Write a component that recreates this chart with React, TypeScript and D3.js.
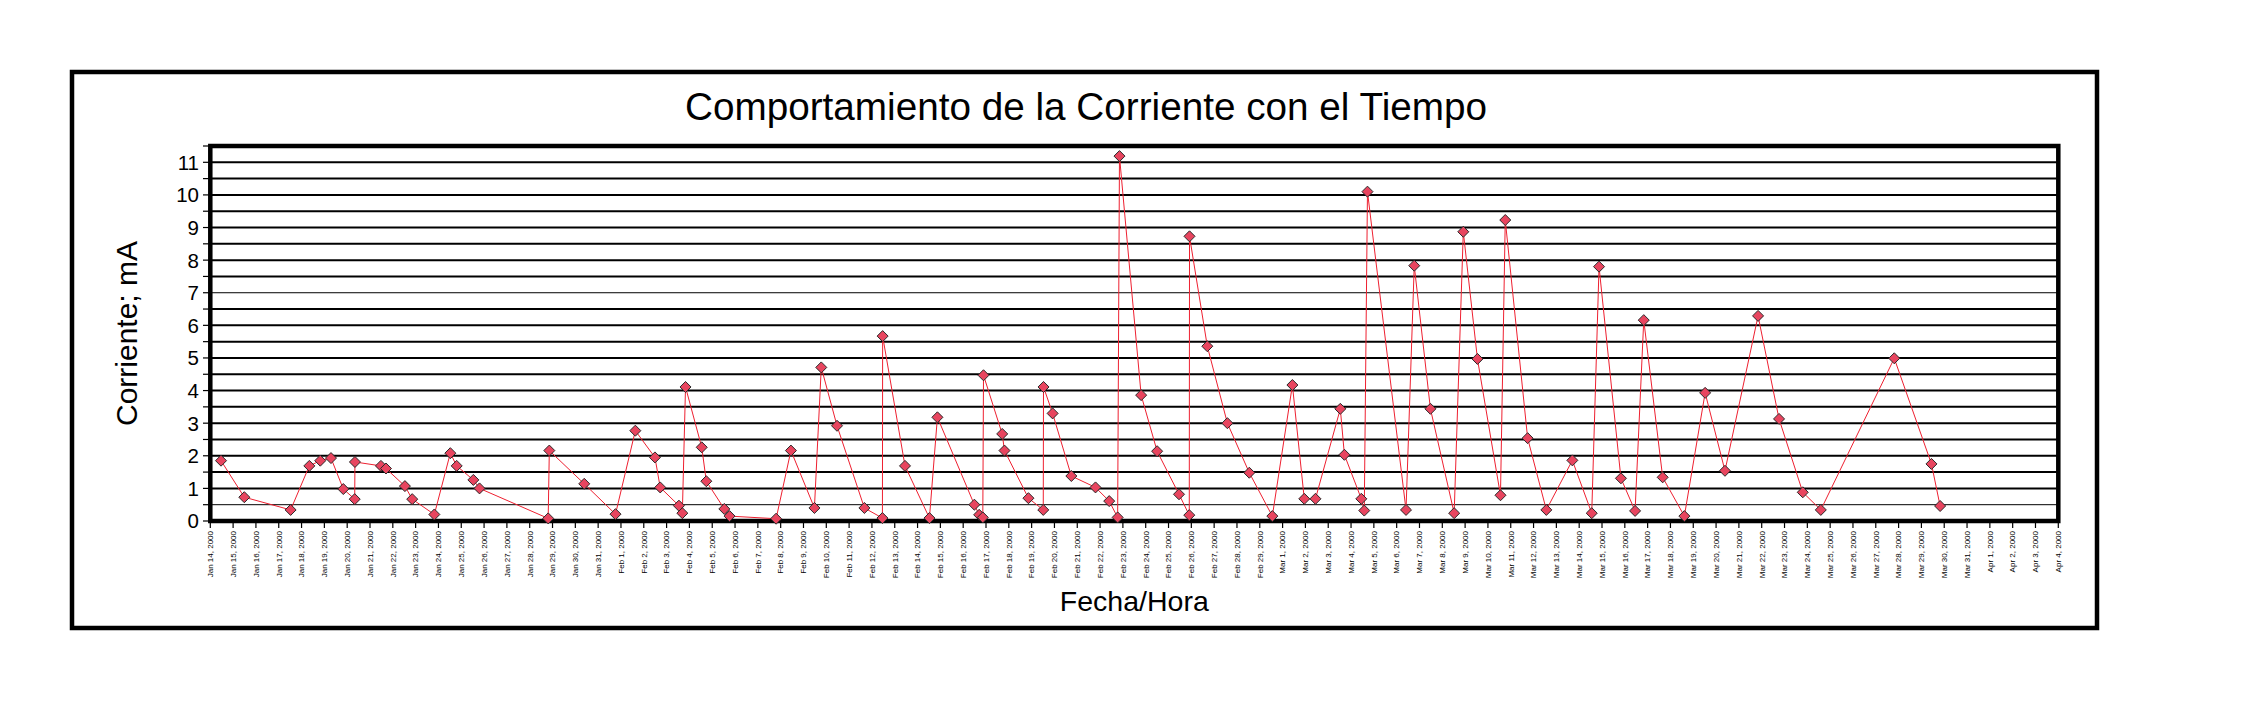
import React from "react";
import * as d3 from "d3";

// ---- data ----
const TIMES: string[] = [
  "2000-01-14 11:17", "2000-01-15 11:46", "2000-01-17 12:29", "2000-01-18 08:10", "2000-01-18 19:41",
  "2000-01-19 06:58", "2000-01-19 19:55", "2000-01-20 07:55", "2000-01-20 08:10", "2000-01-21 11:31",
  "2000-01-21 16:48", "2000-01-22 12:43", "2000-01-22 20:24", "2000-01-23 19:41", "2000-01-24 12:29",
  "2000-01-24 19:12", "2000-01-25 12:43", "2000-01-25 19:12", "2000-01-28 19:26", "2000-01-28 20:38",
  "2000-01-30 09:22", "2000-01-31 18:14", "2000-02-01 15:07", "2000-02-02 11:46", "2000-02-02 17:17",
  "2000-02-03 12:58", "2000-02-03 16:34", "2000-02-03 19:55", "2000-02-04 12:58", "2000-02-04 17:46",
  "2000-02-05 12:43", "2000-02-05 18:14", "2000-02-07 19:12", "2000-02-08 10:48", "2000-02-09 11:31",
  "2000-02-09 18:43", "2000-02-10 11:17", "2000-02-11 16:05", "2000-02-12 11:02", "2000-02-12 11:17",
  "2000-02-13 10:48", "2000-02-14 12:29", "2000-02-14 20:53", "2000-02-16 11:46", "2000-02-16 16:48",
  "2000-02-16 20:38", "2000-02-16 21:22", "2000-02-17 17:02", "2000-02-17 19:26", "2000-02-18 20:38",
  "2000-02-19 12:14", "2000-02-19 12:29", "2000-02-19 22:05", "2000-02-20 17:46", "2000-02-21 19:12",
  "2000-02-22 09:36", "2000-02-22 18:29", "2000-02-22 20:24", "2000-02-23 19:12", "2000-02-24 12:00",
  "2000-02-25 11:02", "2000-02-25 21:50", "2000-02-25 22:05", "2000-02-26 16:48", "2000-02-27 13:55",
  "2000-02-28 12:58", "2000-02-29 13:12", "2000-03-01 10:19", "2000-03-01 22:48", "2000-03-02 10:34",
  "2000-03-03 12:43", "2000-03-03 17:02", "2000-03-04 10:48", "2000-03-04 13:55", "2000-03-04 17:17",
  "2000-03-06 09:50", "2000-03-06 18:29", "2000-03-07 11:31", "2000-03-08 12:29", "2000-03-08 22:05",
  "2000-03-09 12:58", "2000-03-10 13:12", "2000-03-10 18:14", "2000-03-11 17:46", "2000-03-12 13:26",
  "2000-03-13 16:48", "2000-03-14 13:12", "2000-03-14 20:53", "2000-03-15 19:55", "2000-03-16 10:48",
  "2000-03-16 19:55", "2000-03-17 15:50", "2000-03-18 14:38", "2000-03-19 12:29", "2000-03-20 09:22",
  "2000-03-21 20:10", "2000-03-22 18:14", "2000-03-23 19:12", "2000-03-24 14:10", "2000-03-27 19:26",
  "2000-03-29 10:34", "2000-03-29 19:41",
];

const CURRENT_MA: number[] = [
  1.85, 0.73, 0.34, 1.69, 1.85,
  1.93, 0.98, 0.67, 1.81, 1.69,
  1.61, 1.07, 0.67, 0.20, 2.08,
  1.69, 1.26, 1.00, 0.08, 2.16,
  1.14, 0.21, 2.77, 1.95, 1.03,
  0.47, 0.24, 4.11, 2.26, 1.22,
  0.37, 0.15, 0.07, 2.16, 0.40,
  4.71, 2.92, 0.40, 0.09, 5.67,
  1.69, 0.09, 3.18, 0.50, 0.19,
  0.11, 4.47, 2.67, 2.16, 0.70,
  0.34, 4.11, 3.30, 1.38, 1.03,
  0.61, 0.11, 11.19, 3.86, 2.14,
  0.82, 0.18, 8.73, 5.36, 3.00,
  1.48, 0.15, 4.17, 0.68, 0.68,
  3.44, 2.03, 0.68, 0.32, 10.10,
  0.34, 7.83, 3.44, 0.24, 8.87,
  4.97, 0.79, 9.23, 2.54, 0.34,
  1.86, 0.24, 7.80, 1.31, 0.31,
  6.16, 1.34, 0.15, 3.93, 1.54,
  6.29, 3.13, 0.88, 0.34, 4.99,
  1.75, 0.46,
];

const X_START = "2000-01-14";
const X_END = "2000-04-04";
const Y_MAX = 11.5;
const Y_LABEL_TICKS = [0, 1, 2, 3, 4, 5, 6, 7, 8, 9, 10, 11];
const THIN_GRID = [0.5, 7];

const TITLE = "Comportamiento de la Corriente con el Tiempo";
const Y_TITLE = "Corriente; mA";
const X_TITLE = "Fecha/Hora";

const W = 2268;
const H = 709;

export default function App() {
  const parseT = d3.timeParse("%Y-%m-%d %H:%M");
  const parseD = d3.timeParse("%Y-%m-%d");
  const fmt = d3.timeFormat("%b %-d, %Y");

  const left = 210.3;
  const right = 2058.3;
  const top = 146;
  const bottom = 521;

  const x = d3.scaleTime().domain([parseD(X_START)!, parseD(X_END)!]).range([left, right]);
  const y = d3.scaleLinear().domain([0, Y_MAX]).range([bottom, top]);

  const pts = TIMES.map((t, i) => ({ t: parseT(t)!, v: CURRENT_MA[i] }));
  const line = d3
    .line<{ t: Date; v: number }>()
    .x((d) => x(d.t))
    .y((d) => y(d.v));

  const dayTicks = d3.timeDay.range(parseD(X_START)!, d3.timeDay.offset(parseD(X_END)!, 1));
  const halfTicks = d3.range(0, Y_MAX + 0.001, 0.5);
  const grid = d3.range(0.5, 11.001, 0.5);

  const font = "Arial, 'Liberation Sans', Helvetica, sans-serif";
  const ms = 5.5;
  const diamond = `M0,${-ms}L${ms},0L0,${ms}L${-ms},0Z`;

  return (
    <svg
      width={W}
      height={H}
      style={{ position: "absolute", left: 0, top: 0, background: "#fff" }}
      fontFamily={font}
    >
      <rect x={0} y={0} width={W} height={H} fill="#fff" />
      {/* outer frame */}
      <rect x={72} y={72} width={2025} height={556} fill="none" stroke="#000" strokeWidth={4.5} />

      {/* title */}
      <text x={1086} y={120} textAnchor="middle" fontSize={38.7} fill="#000">
        {TITLE}
      </text>

      {/* gridlines */}
      {grid.map((g) => (
        <line
          key={"g" + g}
          x1={left}
          x2={right}
          y1={y(g)}
          y2={y(g)}
          stroke="#000"
          strokeWidth={THIN_GRID.includes(g) ? 1 : 2}
        />
      ))}

      {/* y ticks */}
      {halfTicks.map((t) => (
        <line key={"yt" + t} x1={203} x2={left} y1={y(t)} y2={y(t)} stroke="#000" strokeWidth={1.2} />
      ))}
      {Y_LABEL_TICKS.map((t) => (
        <text key={"yl" + t} x={199} y={y(t)} dy="0.36em" textAnchor="end" fontSize={20.5} fill="#000">
          {t}
        </text>
      ))}

      {/* x ticks */}
      {dayTicks.map((d, i) => (
        <g key={"xt" + i} transform={`translate(${x(d)},0)`}>
          <line x1={0} x2={0} y1={bottom} y2={528} stroke="#000" strokeWidth={1.2} />
          <text
            transform={`translate(0,531) rotate(-90)`}
            textAnchor="end"
            dy="0.35em"
            fontSize={8}
            fill="#000"
          >
            {fmt(d)}
          </text>
        </g>
      ))}

      {/* plot border */}
      <rect
        x={left}
        y={top}
        width={right - left}
        height={bottom - top}
        fill="none"
        stroke="#000"
        strokeWidth={4.5}
      />

      {/* series line */}
      <path d={line(pts) || ""} fill="none" stroke="#ee2030" strokeWidth={1} />

      {/* markers */}
      {pts.map((p, i) => (
        <path
          key={"m" + i}
          d={diamond}
          transform={`translate(${x(p.t)},${y(p.v)})`}
          fill="#e8455f"
          stroke="#2a2a2a"
          strokeWidth={1}
        />
      ))}

      {/* axis titles */}
      <text
        transform={`translate(137,${(top + bottom) / 2}) rotate(-90)`}
        textAnchor="middle"
        fontSize={30}
        fill="#000"
      >
        {Y_TITLE}
      </text>
      <text x={(left + right) / 2} y={611} textAnchor="middle" fontSize={28.5} fill="#000">
        {X_TITLE}
      </text>
    </svg>
  );
}
